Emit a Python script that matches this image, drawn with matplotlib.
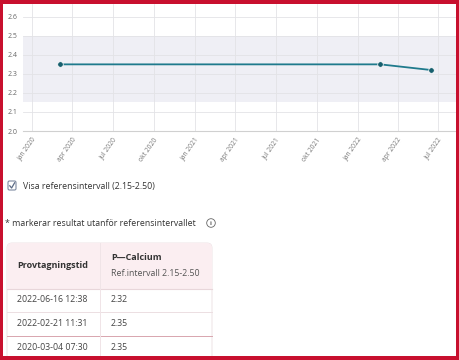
import matplotlib
matplotlib.use("Agg")
import matplotlib.pyplot as plt
import matplotlib.dates as mdates
from matplotlib.patches import Rectangle, FancyBboxPatch, Circle
import numpy as np
import datetime as dt

# ---- data ----
sample_dates = ["2020-03-04", "2022-02-21", "2022-06-16"]
sample_times = ["07:30", "11:31", "12:38"]
calcium = [2.35, 2.35, 2.32]
ref_low, ref_high = 2.15, 2.50
tick_dates = ["2020-01-01", "2020-04-01", "2020-07-01", "2020-10-01",
              "2021-01-01", "2021-04-01", "2021-07-01", "2021-10-01",
              "2022-01-01", "2022-04-01", "2022-07-01"]
tick_labels = ["jan 2020", "apr 2020", "jul 2020", "okt 2020",
               "jan 2021", "apr 2021", "jul 2021", "okt 2021",
               "jan 2022", "apr 2022", "jul 2022"]
y_ticks = [2.0, 2.1, 2.2, 2.3, 2.4, 2.5, 2.6]
y_tick_labels = ["2.0", "2.1", "2.2", "2.3", "2.4", "2.5", "2.6"]
table_header = ["Provtagningstid", "P\u2014Calcium", "Ref.intervall 2.15-2.50"]

plt.rcParams['font.family'] = ['Open Sans', 'DejaVu Sans']

W, H = 460, 360
fig = plt.figure(figsize=(W / 100, H / 100), dpi=100)
fig.patch.set_facecolor("white")

def px_axes(x0, y0, x1, y1):
    return [x0 / W, 1 - y1 / H, (x1 - x0) / W, (y1 - y0) / H]

ax = fig.add_axes(px_axes(23, 4, 456, 131))
dates = [dt.datetime.strptime(d, "%Y-%m-%d") for d in sample_dates]
tdates = [dt.datetime.strptime(d, "%Y-%m-%d") for d in tick_dates]

ax.axhspan(ref_low, ref_high, color="#efeff5", zorder=0, lw=0)
ax.plot(dates, calcium, color="#1f7a8c", lw=1.3, zorder=3)
ax.scatter(dates, calcium, s=16, color="#175f6e", zorder=4, edgecolor="white", linewidth=0.5)

ax.set_xlim(dt.datetime(2019, 12, 12), dt.datetime(2022, 8, 10))
ax.set_ylim(2.0, 2.667)
ax.set_xticks(tdates)
ax.set_xticklabels(tick_labels, rotation=55, ha="right", va="top",
                   rotation_mode="anchor", fontsize=4.8, color="#777777")
ax.set_yticks(y_ticks)
ax.set_yticklabels(y_tick_labels, fontsize=5, color="#666666")
ax.tick_params(axis="both", length=0, pad=4)
ax.grid(True, color="#e3e3e6", lw=0.6, zorder=1)
for s in ["top", "right", "left"]:
    ax.spines[s].set_visible(False)
ax.spines["bottom"].set_color("#d0d0d0")
ax.spines["bottom"].set_linewidth(0.8)
ax.set_facecolor("white")
ax.set_axisbelow(True)

# ---- overlay for page elements ----
ov = fig.add_axes([0, 0, 1, 1], zorder=5)
ov.set_xlim(0, W)
ov.set_ylim(H, 0)
ov.axis("off")
ov.patch.set_alpha(0)

txt = "#333333"
# checkbox
ov.add_patch(FancyBboxPatch((8, 181), 8, 9, boxstyle="round,pad=0,rounding_size=1.5",
                            fc="white", ec="#7d8aa0", lw=0.8))
ov.plot([9.8, 11.6, 14.6], [185.8, 188, 182.8], color="#5a6a85", lw=0.9)
ov.text(23, 186, "Visa referensintervall (2.15-2.50)", fontsize=6.3, color=txt,
        va="center", ha="left")

ov.text(5, 223, "* markerar resultat utanf\u00f6r referensintervallet", fontsize=6.3,
        color=txt, va="center", ha="left")
ov.add_patch(Circle((211, 223), 4.3, fc="white", ec="#666666", lw=0.6))
ov.text(211, 223.3, "i", fontsize=4.5, color="#555555", ha="center", va="center",
        fontweight="bold")

# table
tl, tr, tt = 7, 212, 243
hb = 289
row_lines = [312, 336]
ov.add_patch(FancyBboxPatch((tl + 0.5, tt + 0.5), tr - tl - 1, 120, boxstyle="round,pad=0,rounding_size=5",
                            fc="#f2f2f2", ec="none", zorder=1))
ov.add_patch(FancyBboxPatch((tl, tt), tr - tl, 120, boxstyle="round,pad=0,rounding_size=5",
                            fc="white", ec="#eadfe2", lw=0.6, zorder=2))
ov.add_patch(FancyBboxPatch((tl, tt), tr - tl, hb - tt, boxstyle="round,pad=0,rounding_size=5",
                            fc="#fbeef1", ec="none", zorder=3))
ov.add_patch(Rectangle((tl, tt + 10), tr - tl, hb - tt - 10, fc="#fbeef1", ec="none", zorder=3))
ov.plot([tl, tr], [hb, hb], color="#e8d6da", lw=0.8, zorder=4)
ov.plot([tl, tr], [row_lines[0], row_lines[0]], color="#ecdfe2", lw=0.7, zorder=4)
ov.plot([tl, tr], [row_lines[1], row_lines[1]], color="#d8a5ae", lw=0.7, zorder=4)
ov.plot([100, 100], [tt, 360], color="#f0e4e7", lw=0.7, zorder=4)

ov.text(17, 265, table_header[0], fontsize=6.5, fontweight="bold", color=txt,
        va="center", ha="left", zorder=5)
ov.text(111, 258, table_header[1], fontsize=6.5, fontweight="bold", color=txt,
        va="center", ha="left", zorder=5)
ov.text(111, 273, table_header[2], fontsize=6.3, color="#555555",
        va="center", ha="left", zorder=5)

row_y = [300, 323, 347]
order = list(range(len(sample_dates)))[::-1]
for y, i in zip(row_y, order):
    ov.text(17, y, f"{sample_dates[i]} {sample_times[i]}", fontsize=6.3, color="#444444",
            va="center", ha="left", zorder=5)
    ov.text(111, y, f"{calcium[i]:.2f}", fontsize=6.3, color="#444444",
            va="center", ha="left", zorder=5)

# red page border
red = "#c8102e"
ov.add_patch(Rectangle((0, 0), W, 3.5, fc=red, ec="none", zorder=10))
ov.add_patch(Rectangle((0, 0), 3.5, H, fc=red, ec="none", zorder=10))
ov.add_patch(Rectangle((456.5, 0), 3.5, H, fc=red, ec="none", zorder=10))
ov.add_patch(Rectangle((0, 356), W, 4, fc=red, ec="none", zorder=10))

fig.savefig("out.png", dpi=100, facecolor="white")
